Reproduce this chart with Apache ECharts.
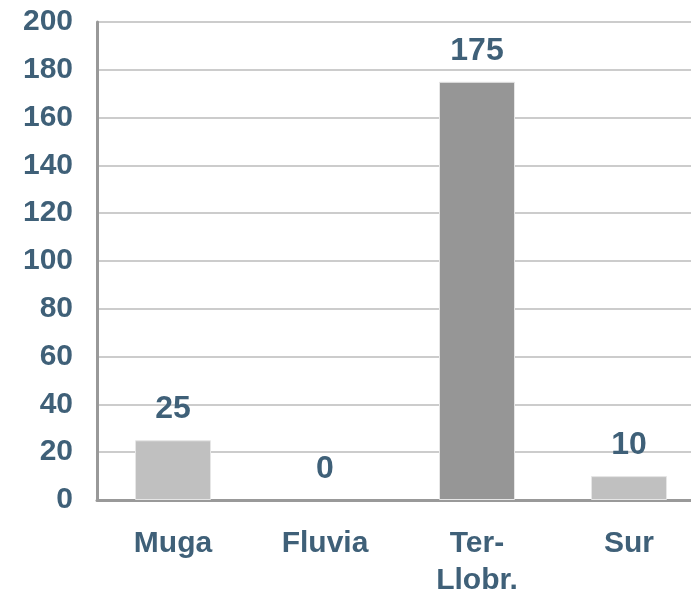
<!DOCTYPE html>
<html>
<head>
<meta charset="utf-8">
<script src="https://cdn.jsdelivr.net/npm/echarts@6/dist/echarts.min.js"></script>
<style>
  html, body { margin: 0; padding: 0; background: #fff; }
  #chart { width: 691px; height: 593px; }
</style>
</head>
<body>
<div id="chart"></div>
<script>
var categories = ['Muga', 'Fluvia', 'Ter-\nLlobr.', 'Sur'];
var values = [25, 0, 175, 10];
var barColors = ['#c0c0c0', '#c0c0c0', '#969696', '#c0c0c0'];

var textColor = '#3f6078';
var fontFam = 'Liberation Sans, Arial, sans-serif';

var chart = echarts.init(document.getElementById('chart'));
var seriesData = [];
for (var i = 0; i < values.length; i++) {
    seriesData.push({
        value: values[i],
        itemStyle: {
            color: barColors[i],
            borderWidth: values[i] > 0 ? 1 : 0
        }
    });
}

chart.setOption({
    animation: false,
    grid: {
        left: 97,
        top: 22,
        width: 608,
        height: 478,
        containLabel: false,
        outerBoundsMode: 'none'
    },
    xAxis: {
        type: 'category',
        data: categories,
        axisTick: { show: false },
        axisLine: { lineStyle: { color: '#999999', width: 3 } },
        axisLabel: {
            margin: 25,
            color: textColor,
            fontFamily: fontFam,
            fontWeight: 'bold',
            fontSize: 30,
            lineHeight: 37
        }
    },
    yAxis: {
        type: 'value',
        min: 0,
        max: 200,
        interval: 20,
        axisLine: { show: true, lineStyle: { color: '#999999', width: 3 } },
        axisTick: { show: false },
        splitLine: { lineStyle: { color: '#cccccc', width: 2 } },
        axisLabel: {
            margin: 24,
            color: textColor,
            fontFamily: fontFam,
            fontWeight: 'bold',
            fontSize: 30
        }
    },
    series: [{
        type: 'bar',
        barWidth: 76,
        data: seriesData,
        itemStyle: { borderColor: '#e6e6e6' },
        label: {
            show: true,
            position: 'top',
            distance: 15,
            color: textColor,
            fontFamily: fontFam,
            fontWeight: 'bold',
            fontSize: 32
        }
    }]
});
</script>
</body>
</html>
